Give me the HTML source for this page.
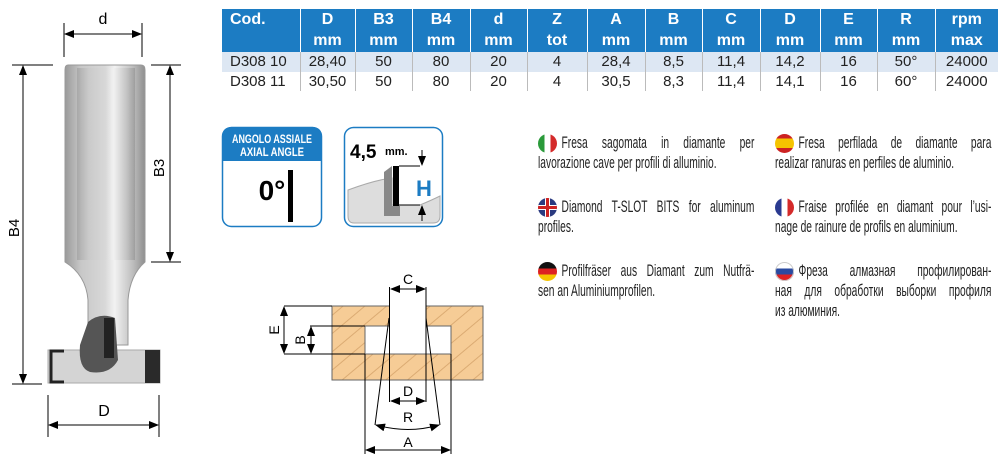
<!DOCTYPE html>
<html><head><meta charset="utf-8"><style>
*{margin:0;padding:0;box-sizing:border-box}
body{width:998px;height:464px;background:#fff;position:relative;overflow:hidden;font-family:"Liberation Sans",sans-serif}
table{position:absolute;left:222px;top:9px;border-collapse:collapse;font-size:15px}
td{height:19.5px;text-align:center;color:#222;border-left:1px solid #bbb;padding:0}
td:first-child{border-left:none;text-align:left;padding-left:8px}
tr.h td{background:#1c7cc3;color:#fff;font-weight:bold;height:21.5px;border-left:1px solid #fff;line-height:20px;font-size:16px}
tr.h td:first-child{border-left:none}
tr.r1 td{background:#dde7f3}
.txt{position:absolute;font-size:16.5px;line-height:20px;color:#222;transform:scaleX(0.62);transform-origin:0 0;width:349px}
.j{text-align:justify;text-align-last:justify;height:20px}
.l{white-space:nowrap;height:20px}
.i{text-indent:38px}
.fl{position:absolute;width:19px;height:19px;border-radius:50%;overflow:hidden}
</style></head><body>
<table>
<colgroup><col style="width:78px"><col style="width:55px"><col style="width:57px"><col style="width:58px"><col style="width:57px"><col style="width:60px"><col style="width:58px"><col style="width:57px"><col style="width:58px"><col style="width:60px"><col style="width:57px"><col style="width:58px"><col style="width:63px"></colgroup>
<tr class="h"><td style="text-align:left">Cod.</td><td>D</td><td>B3</td><td>B4</td><td>d</td><td>Z</td><td>A</td><td>B</td><td>C</td><td>D</td><td>E</td><td>R</td><td>rpm</td></tr>
<tr class="h"><td></td><td>mm</td><td>mm</td><td>mm</td><td>mm</td><td>tot</td><td>mm</td><td>mm</td><td>mm</td><td>mm</td><td>mm</td><td>mm</td><td>max</td></tr>
<tr class="r1"><td>D308 10</td><td>28,40</td><td>50</td><td>80</td><td>20</td><td>4</td><td>28,4</td><td>8,5</td><td>11,4</td><td>14,2</td><td>16</td><td>50°</td><td>24000</td></tr>
<tr><td>D308 11</td><td>30,50</td><td>50</td><td>80</td><td>20</td><td>4</td><td>30,5</td><td>8,3</td><td>11,4</td><td>14,1</td><td>16</td><td>60°</td><td>24000</td></tr>
</table>

<svg width="998" height="464" style="position:absolute;left:0;top:0" font-family="Liberation Sans, sans-serif">
<defs>
<linearGradient id="sh" x1="0" x2="1"><stop offset="0" stop-color="#9a9a9a"/><stop offset="0.2" stop-color="#c8c8c8"/><stop offset="0.5" stop-color="#d8d8d8"/><stop offset="0.62" stop-color="#f2f2f2"/><stop offset="0.85" stop-color="#bdbdbd"/><stop offset="1" stop-color="#8f8f8f"/></linearGradient>
<marker id="ar" markerWidth="10" markerHeight="8" refX="9" refY="4" orient="auto-start-reverse" markerUnits="userSpaceOnUse"><path d="M0,0L10,4L0,8z" fill="#000"/></marker>
</defs>
<path d="M68,65 H141 Q145,65 145,70 V262 Q130,275 128,300 V345 H88 V300 Q86,275 65,262 V70 Q65,65 68,65Z" fill="url(#sh)" stroke="#999"/>
<rect x="77" y="68" width="58" height="192" fill="url(#sh)" opacity="0.6"/>
<rect x="48" y="350" width="112" height="33" fill="#d4d4d4" stroke="#aaa"/>
<path d="M64,351 H51 V382 H64" fill="none" stroke="#222" stroke-width="3"/>
<rect x="145" y="350" width="15" height="33" fill="#2a2a2a"/>
<path d="M88,322 Q100,312 115,318 L118,360 Q110,375 90,372 Q78,368 80,345Z" fill="#555"/>
<rect x="104" y="318" width="10" height="40" fill="#222"/>
<g stroke="#000" stroke-width="1" fill="none">
<line x1="64" y1="23" x2="64" y2="57"/><line x1="142" y1="23" x2="142" y2="57"/>
<line x1="65" y1="34" x2="141" y2="34" marker-start="url(#ar)" marker-end="url(#ar)"/>
<line x1="12" y1="65" x2="53" y2="65"/><line x1="12" y1="384" x2="42" y2="384"/>
<line x1="23" y1="66" x2="23" y2="383" marker-start="url(#ar)" marker-end="url(#ar)"/>
<line x1="151" y1="65" x2="181" y2="65"/><line x1="151" y1="262" x2="181" y2="262"/>
<line x1="170" y1="66" x2="170" y2="261" marker-start="url(#ar)" marker-end="url(#ar)"/>
<line x1="48" y1="395" x2="48" y2="437"/><line x1="159" y1="395" x2="159" y2="437"/>
<line x1="49" y1="425" x2="158" y2="425" marker-start="url(#ar)" marker-end="url(#ar)"/>
</g>
<text x="103" y="24" font-size="16" text-anchor="middle">d</text>
<text x="104" y="416" font-size="16" text-anchor="middle">D</text>
<text transform="translate(19,228) rotate(-90)" font-size="15" text-anchor="middle">B4</text>
<text transform="translate(164,168) rotate(-90)" font-size="15" text-anchor="middle">B3</text>
<rect x="222.5" y="127.5" width="99" height="99" rx="9" fill="#fff" stroke="#1c7cc3" stroke-width="1.5"/>
<path d="M222,161 V137 Q222,127 232,127 H312 Q322,127 322,137 V161Z" fill="#1c7cc3"/>
<text x="272" y="143" font-size="12" font-weight="bold" fill="#fff" text-anchor="middle" textLength="80" lengthAdjust="spacingAndGlyphs">ANGOLO ASSIALE</text>
<text x="272" y="156" font-size="12" font-weight="bold" fill="#fff" text-anchor="middle" textLength="64" lengthAdjust="spacingAndGlyphs">AXIAL ANGLE</text>
<text x="272" y="200" font-size="28" font-weight="bold" text-anchor="middle">0°</text>
<rect x="288" y="170" width="5" height="52" fill="#000"/>
<rect x="344.5" y="127.5" width="98" height="99" rx="9" fill="#fff" stroke="#1c7cc3" stroke-width="1.5"/>
<path d="M348,190 Q375,180 392,178 V205 H420 Q432,200 440,196 V216 Q440,223 433,223 H354 Q348,223 348,216Z" fill="#ddd" stroke="#aaa"/>
<path d="M384,172 L392,166 V206 H400 V216 H384Z" fill="#888"/>
<rect x="393" y="166" width="6" height="40" fill="#000"/>
<path d="M399,166 H420 M399,205 H420" stroke="#000"/>
<line x1="422" y1="150" x2="422" y2="165" stroke="#000" marker-end="url(#ar)"/>
<line x1="422" y1="221" x2="422" y2="206" stroke="#000" marker-end="url(#ar)"/>
<text x="350" y="158" font-size="19" font-weight="bold">4,5</text>
<text x="385" y="155" font-size="11" font-weight="bold">mm.</text>
<text x="424" y="196" font-size="22" font-weight="bold" fill="#1c7cc3" text-anchor="middle">H</text>
<defs><pattern id="wd" width="14" height="14" patternUnits="userSpaceOnUse" patternTransform="rotate(-40)"><rect width="14" height="14" fill="#f6cc96"/><line x1="0" y1="7" x2="14" y2="7" stroke="#d5a36a" stroke-width="0.8"/></pattern></defs>
<rect x="332" y="306" width="151" height="74" fill="url(#wd)" stroke="#666"/>
<rect x="365" y="326" width="86" height="28" fill="#fff" stroke="#666"/>
<rect x="389.5" y="305" width="36.5" height="22" fill="#fff"/>
<g stroke="#000" stroke-width="1" fill="none">
<line x1="389.5" y1="287" x2="389.5" y2="402"/><line x1="426" y1="287" x2="426" y2="402"/>
<line x1="391" y1="289" x2="425" y2="289" marker-start="url(#ar)" marker-end="url(#ar)"/>
<line x1="391" y1="401" x2="425" y2="401" marker-start="url(#ar)" marker-end="url(#ar)"/>
<line x1="389" y1="318" x2="375" y2="425"/><line x1="426" y1="318" x2="440" y2="425"/>
<path d="M376,425 Q408,434 439,425" marker-start="url(#ar)" marker-end="url(#ar)"/>
<line x1="365" y1="354" x2="365" y2="454"/><line x1="451" y1="354" x2="451" y2="454"/>
<line x1="366" y1="450" x2="450" y2="450" marker-start="url(#ar)" marker-end="url(#ar)"/>
<line x1="284" y1="306" x2="332" y2="306"/><line x1="284" y1="354" x2="365" y2="354"/>
<line x1="310" y1="326" x2="365" y2="326"/>
<line x1="284" y1="307" x2="284" y2="353" marker-start="url(#ar)" marker-end="url(#ar)"/>
<line x1="311" y1="327" x2="311" y2="353" marker-start="url(#ar)" marker-end="url(#ar)"/>
</g>
<text x="408" y="284" font-size="14" text-anchor="middle">C</text>
<text x="408" y="396" font-size="14" text-anchor="middle">D</text>
<text x="408" y="422" font-size="14" text-anchor="middle">R</text>
<text x="408" y="447" font-size="14" text-anchor="middle">A</text>
<text transform="translate(279,330) rotate(-90)" font-size="14" text-anchor="middle">E</text>
<text transform="translate(305,340) rotate(-90)" font-size="14" text-anchor="middle">B</text>
</svg>

<span class="fl" style="left:538px;top:134px;background:linear-gradient(90deg,#2a9a3a 33%,#fff 33% 66%,#d42a2a 66%)"></span>
<span class="fl" style="left:538px;top:198px;background:#2a3a80"><span style="position:absolute;left:7px;top:0;width:5px;height:19px;background:#fff"></span><span style="position:absolute;left:0;top:7px;width:19px;height:5px;background:#fff"></span><span style="position:absolute;left:8px;top:0;width:3px;height:19px;background:#c22"></span><span style="position:absolute;left:0;top:8px;width:19px;height:3px;background:#c22"></span></span>
<span class="fl" style="left:538px;top:262px;background:linear-gradient(#111 33%,#d22 33% 66%,#f5c400 66%)"></span>
<span class="fl" style="left:775px;top:134px;background:linear-gradient(#c22 25%,#f5c400 25% 75%,#c22 75%)"></span>
<span class="fl" style="left:775px;top:198px;background:linear-gradient(90deg,#2a3a90 33%,#fff 33% 66%,#d42a2a 66%)"></span>
<span class="fl" style="left:775px;top:262px;background:linear-gradient(#fff 33%,#2a4aa0 33% 66%,#d22 66%);box-shadow:inset 0 0 0 1px #ccc"></span>

<div class="txt" style="left:538px;top:133px"><div class="j i">Fresa sagomata in diamante per</div><div class="l">lavorazione cave per profili di alluminio.</div></div>
<div class="txt" style="left:538px;top:197px"><div class="j i">Diamond T-SLOT BITS for aluminum</div><div class="l">profiles.</div></div>
<div class="txt" style="left:538px;top:261px"><div class="j i">Profilfräser aus Diamant zum Nutfrä-</div><div class="l">sen an Aluminiumprofilen.</div></div>
<div class="txt" style="left:775px;top:133px"><div class="j i">Fresa perfilada de diamante para</div><div class="l">realizar ranuras en perfiles de aluminio.</div></div>
<div class="txt" style="left:775px;top:197px"><div class="j i">Fraise profilée en diamant pour l’usi-</div><div class="l">nage de rainure de profils en aluminium.</div></div>
<div class="txt" style="left:775px;top:261px"><div class="j i">Фреза алмазная профилирован-</div><div class="j">ная для обработки выборки профиля</div><div class="l">из алюминия.</div></div>
</body></html>
